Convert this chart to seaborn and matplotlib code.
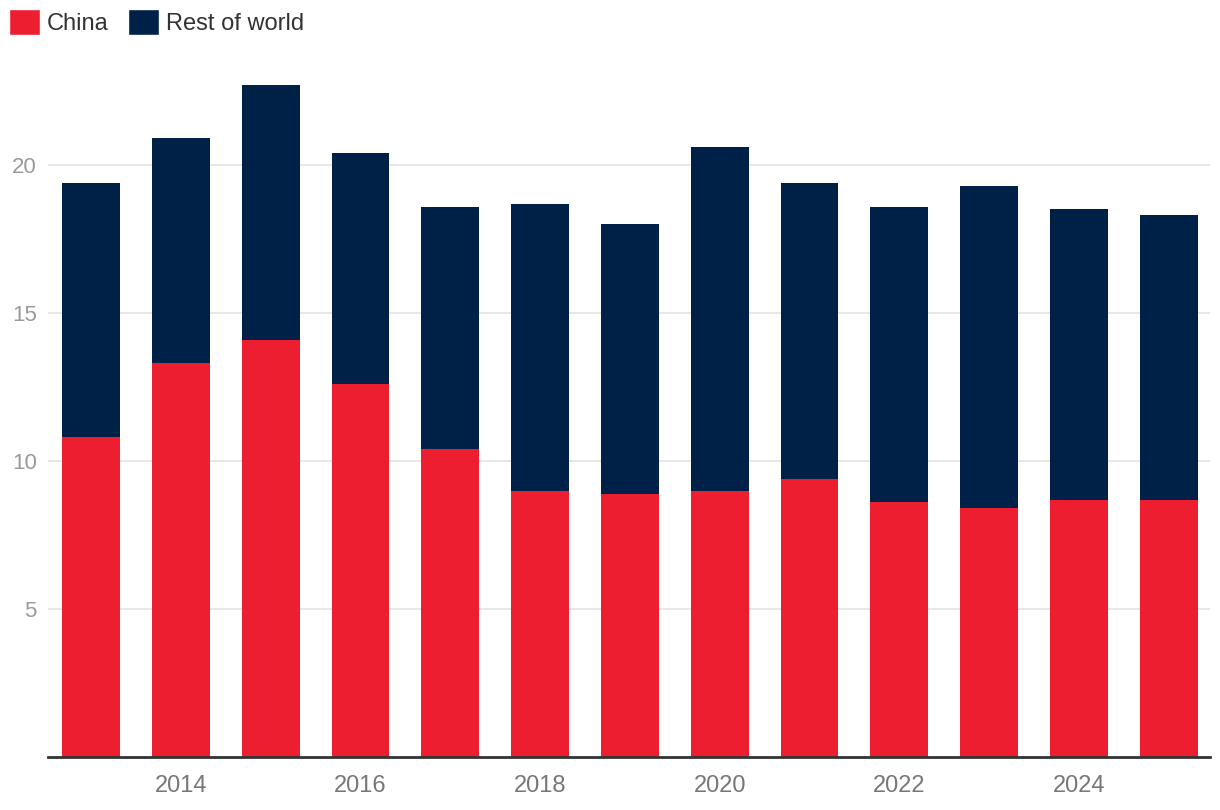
import numpy as np
import pandas as pd
import matplotlib.pyplot as plt
import seaborn as sns
from matplotlib.patches import Patch

# data
years = [2013, 2014, 2015, 2016, 2017, 2018, 2019, 2020, 2021, 2022, 2023, 2024, 2025]
china = [10.8, 13.3, 14.1, 12.6, 10.4, 9.0, 8.9, 9.0, 9.4, 8.6, 8.4, 8.7, 8.7]
total = [19.4, 20.9, 22.7, 20.4, 18.6, 18.7, 18.0, 20.6, 19.4, 18.6, 19.3, 18.5, 18.3]
rest_of_world = [round(t - c, 1) for t, c in zip(total, china)]
yticks = [5, 10, 15, 20]

red = "#EC1E2F"
navy = "#002147"

df = pd.DataFrame({"year": [str(y) for y in years], "China": china,
                   "Rest of world": rest_of_world})
df["total"] = df["China"] + df["Rest of world"]

sns.set_theme(style="white")
plt.rcParams["font.family"] = ["Liberation Sans", "DejaVu Sans"]

fig = plt.figure(figsize=(12.2, 8.1), dpi=100)
ax = fig.add_axes([48 / 1220, 1 - 757 / 810, (1210 - 48) / 1220, (757 - 60) / 810])

# stacked bars: total first (navy), China on top of it from zero
sns.barplot(data=df, x="year", y="total", color=navy, saturation=1,
            width=0.644, linewidth=0, ax=ax, zorder=2)
sns.barplot(data=df, x="year", y="China", color=red, saturation=1,
            width=0.644, linewidth=0, ax=ax, zorder=3)

ax.set_ylim(0, 23.55)
ax.set_xlim(-0.48, len(years) - 1 + 0.46)
ax.set_yticks(yticks)
ax.set_yticklabels([str(t) for t in yticks], color="#9a9a9a", fontsize=16)
ax.yaxis.grid(True, color="#e3e3e3", linewidth=1.2, zorder=0)
ax.set_axisbelow(True)

xt = [i for i, y in enumerate(years) if y % 2 == 0]
ax.set_xticks(xt)
ax.set_xticklabels([str(years[i]) for i in xt], color="#777777", fontsize=17)
ax.tick_params(axis="x", length=0, pad=13)
ax.tick_params(axis="y", length=0, pad=8)
ax.set_xlabel("")
ax.set_ylabel("")

for s in ["top", "right", "left"]:
    ax.spines[s].set_visible(False)
ax.spines["bottom"].set_color("#333333")
ax.spines["bottom"].set_linewidth(2)
ax.spines["bottom"].set_zorder(5)

handles = [Patch(facecolor=red, label="China"),
           Patch(facecolor=navy, label="Rest of world")]
fig.legend(handles=handles, loc="upper left", bbox_to_anchor=(0.0, 1.0),
           ncol=2, frameon=False, fontsize=17, handlelength=1.3,
           handleheight=1.3, handletextpad=0.3, columnspacing=0.8,
           labelcolor="#333333", borderaxespad=0.1, borderpad=0.3)

fig.savefig("out.png", dpi=100)
